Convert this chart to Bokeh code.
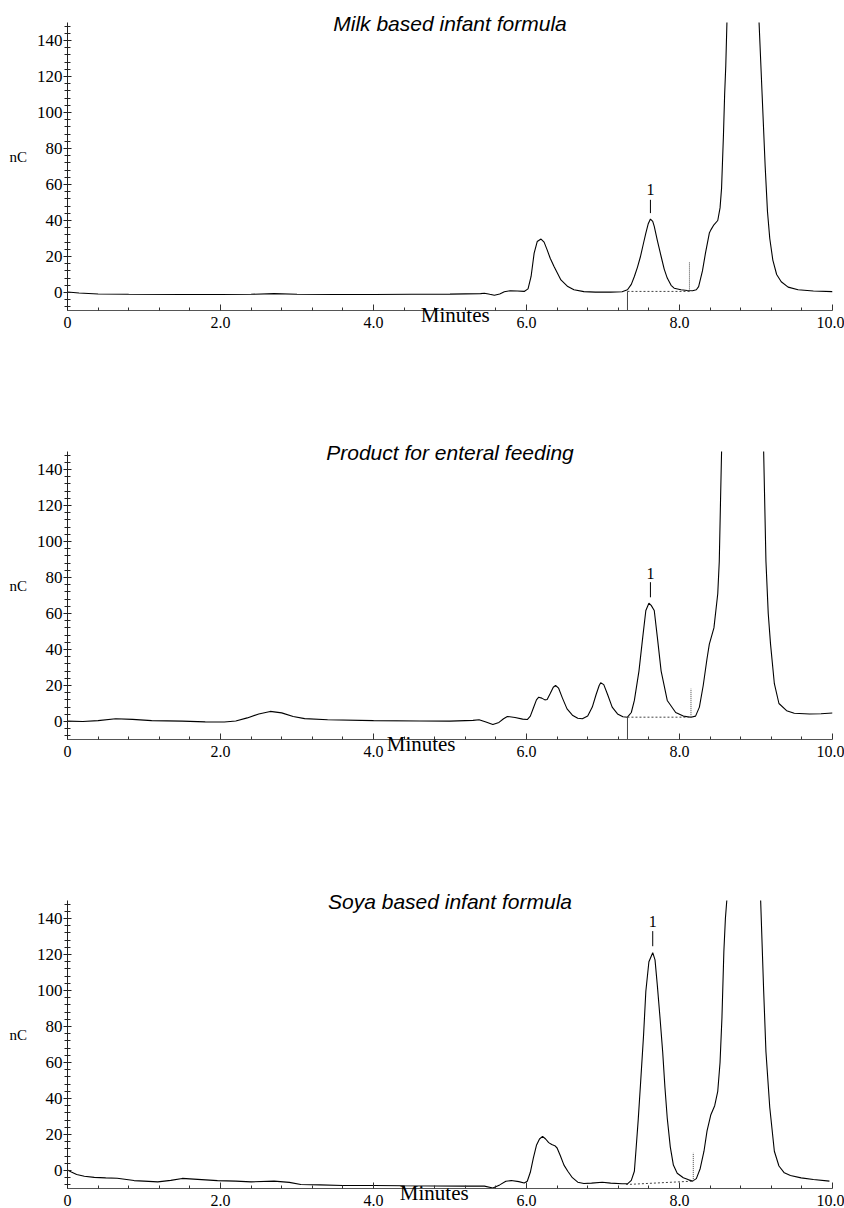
from bokeh.plotting import figure
from bokeh.layouts import column
from bokeh.models import FixedTicker, Label, PrintfTickFormatter, Range1d
from bokeh.embed import file_html
from bokeh.resources import INLINE

# ---------------- data ----------------
titles = ["Milk based infant formula", "Product for enteral feeding", "Soya based infant formula"]
x_ticks = [0, 2, 4, 6, 8, 10]
x_minor = [0.4, 0.8, 1.2, 1.6, 2.4, 2.8, 3.2, 3.6, 4.4, 4.8, 5.2, 5.6,
           6.4, 6.8, 7.2, 7.6, 8.4, 8.8, 9.2, 9.6]
y_ticks = [0, 20, 40, 60, 80, 100, 120, 140]
y_minor = [-8, -4, 4, 8, 12, 16, 24, 28, 32, 36, 44, 48, 52, 56, 64, 68, 72, 76,
           84, 88, 92, 96, 104, 108, 112, 116, 124, 128, 132, 136, 144, 148]

milk_t = [0.00, 0.15, 0.40, 0.80, 1.50, 2.00, 2.40, 2.70, 3.00, 3.50, 4.00, 4.50, 5.00,
          5.40, 5.45, 5.52, 5.58, 5.65, 5.71, 5.79, 5.88, 5.97, 6.02, 6.06, 6.10, 6.14,
          6.19, 6.23, 6.27, 6.31, 6.36, 6.45, 6.54, 6.62, 6.75, 6.90, 7.10, 7.25, 7.32,
          7.37, 7.41, 7.45, 7.49, 7.53, 7.56, 7.59, 7.62, 7.65, 7.67, 7.71, 7.76, 7.80,
          7.84, 7.89, 7.93, 8.02, 8.10, 8.17, 8.22, 8.25, 8.30, 8.34, 8.39, 8.41, 8.45,
          8.50, 8.53, 8.55, 8.575, 8.59, 8.605, 8.62, 8.64, 8.72, 8.82, 8.92, 9.00, 9.04,
          9.08, 9.12, 9.15, 9.18, 9.22, 9.27, 9.33, 9.42, 9.55, 9.75, 10.00]
milk_nc = [0.3, -0.3, -0.8, -1.0, -1.1, -1.1, -1.0, -0.6, -1.0, -1.1, -1.1, -1.0, -0.9,
           -0.6, -0.4, -1.0, -1.5, -0.8, 0.4, 1.0, 0.8, 0.6, 2.0, 8.9, 21.9, 28.3,
           29.7, 28.0, 23.7, 19.0, 14.4, 7.0, 3.3, 1.5, 0.5, 0.2, 0.2, 0.4, 1.5,
           4.5, 8.9, 14.0, 20.0, 27.5, 33.0, 38.0, 40.8, 39.5, 36.7, 29.0, 20.0, 13.0,
           8.0, 4.0, 2.4, 1.5, 1.1, 1.0, 1.5, 3.3, 12.0, 22.0, 33.0, 34.8, 37.6,
           40.0, 47.0, 58.0, 88.0, 110.0, 126.0, 150.0, 190.0, 260.0, 290.0, 270.0, 200.0, 150.0,
           110.0, 70.0, 45.0, 30.0, 18.0, 10.0, 6.0, 3.0, 1.5, 0.8, 0.5]

enteral_t = [0.00, 0.20, 0.40, 0.63, 0.85, 1.10, 1.50, 1.80, 2.05, 2.20, 2.35, 2.50, 2.65,
             2.80, 2.95, 3.10, 3.40, 4.00, 4.60, 5.00, 5.30, 5.38, 5.47, 5.56, 5.64, 5.70,
             5.75, 5.85, 5.95, 6.01, 6.05, 6.09, 6.13, 6.16, 6.20, 6.24, 6.27, 6.31, 6.35,
             6.38, 6.42, 6.47, 6.53, 6.60, 6.67, 6.73, 6.80, 6.86, 6.91, 6.95, 6.97, 7.01,
             7.06, 7.12, 7.19, 7.26, 7.32, 7.37, 7.41, 7.47, 7.52, 7.56, 7.60, 7.63, 7.67,
             7.71, 7.76, 7.84, 7.95, 8.05, 8.15, 8.21, 8.26, 8.31, 8.36, 8.39, 8.45, 8.50,
             8.52, 8.535, 8.55, 8.58, 8.70, 8.85, 9.00, 9.07, 9.10, 9.13, 9.16, 9.19, 9.24,
             9.30, 9.40, 9.50, 9.70, 9.85, 10.00]
enteral_nc = [0.2, 0.0, 0.5, 1.5, 1.2, 0.5, 0.2, -0.2, -0.3, 0.3, 2.0, 4.2, 5.6,
              4.8, 2.8, 1.6, 1.0, 0.5, 0.3, 0.2, 0.6, 1.0, -0.3, -1.7, -0.5, 1.5,
              2.8, 2.2, 1.3, 1.1, 3.0, 7.5, 12.0, 13.5, 13.0, 12.0, 12.2, 15.5, 19.0,
              20.0, 18.5, 13.0, 7.0, 3.5, 1.8, 1.5, 3.0, 8.0, 15.0, 20.0, 21.5, 20.5,
              15.0, 8.0, 4.2, 2.6, 2.4, 5.0, 11.7, 28.0, 47.0, 61.7, 65.7, 64.5, 61.7,
              47.0, 28.0, 11.7, 5.0, 3.0, 2.4, 3.0, 8.0, 20.0, 35.0, 43.0, 52.0, 71.0,
              89.0, 120.0, 150.0, 200.0, 280.0, 300.0, 260.0, 200.0, 150.0, 89.0, 60.0, 43.0, 21.0,
              10.0, 6.0, 4.6, 4.2, 4.3, 4.7]

soya_t = [0.00, 0.05, 0.12, 0.22, 0.35, 0.50, 0.65, 0.87, 1.00, 1.18, 1.35, 1.50, 1.65,
          1.96, 2.20, 2.40, 2.70, 2.90, 3.05, 3.30, 3.60, 4.00, 4.40, 4.80, 5.20, 5.45,
          5.56, 5.65, 5.73, 5.80, 5.90, 5.97, 6.01, 6.05, 6.09, 6.13, 6.17, 6.21, 6.25,
          6.29, 6.33, 6.37, 6.40, 6.44, 6.49, 6.54, 6.60, 6.67, 6.75, 6.85, 6.99, 7.10,
          7.25, 7.32, 7.37, 7.41, 7.43, 7.46, 7.49, 7.53, 7.56, 7.60, 7.65, 7.68, 7.71,
          7.745, 7.78, 7.81, 7.84, 7.88, 7.92, 7.97, 8.05, 8.12, 8.17, 8.22, 8.27, 8.32,
          8.36, 8.41, 8.46, 8.50, 8.53, 8.555, 8.58, 8.60, 8.62, 8.65, 8.80, 9.00, 9.06,
          9.10, 9.13, 9.18, 9.24, 9.30, 9.37, 9.45, 9.59, 9.75, 9.96]
soya_nc = [0.3, -0.8, -2.2, -3.2, -3.8, -4.1, -4.3, -5.6, -5.9, -6.3, -5.5, -4.4, -4.8,
           -5.6, -5.9, -6.3, -5.9, -6.6, -7.8, -8.0, -8.3, -8.3, -8.5, -8.6, -8.7, -8.7,
           -9.7, -8.0, -6.0, -5.6, -6.2, -6.9, -6.0, -1.0, 7.0, 14.0, 17.5, 19.0, 17.5,
           15.5, 14.4, 13.8, 12.5, 8.5, 3.0, -0.4, -4.0, -6.5, -7.2, -7.0, -6.5, -7.0,
           -7.4, -7.4, -5.5, -0.4, 10.7, 28.0, 47.8, 75.0, 99.6, 116.0, 121.0, 117.0, 103.0,
           85.0, 66.0, 46.0, 29.0, 13.0, 3.0, -1.5, -4.0, -5.2, -5.9, -4.5, 1.0, 10.7,
           22.0, 31.0, 36.0, 44.0, 60.0, 85.0, 121.8, 140.0, 151.0, 200.0, 300.0, 220.0, 151.0,
           100.0, 66.0, 35.0, 10.7, 2.5, -1.3, -2.8, -4.1, -5.0, -5.9]

# integration baseline of peak 1: start/end time and level, end-marker top
base_start_t = [7.32, 7.32, 7.30]
base_start_nc = [0.6, 2.4, -7.8]
base_end_t = [8.13, 8.15, 8.18]
base_end_nc = [0.6, 2.4, -5.9]
end_mark_top = [16.7, 18.2, 9.8]
# peak "1" marker
peak1_t = [7.62, 7.62, 7.65]
peak1_mark_lo = [44.1, 69.0, 124.6]
peak1_mark_hi = [51.5, 77.4, 133.0]
peak1_label_nc = [57.5, 82.5, 138.5]

traces = [(milk_t, milk_nc), (enteral_t, enteral_nc), (soya_t, soya_nc)]

SERIF = "Liberation Serif"
SANS = "Liberation Sans"
NB = "\u00a0"
# "Minutes" label, padded so that it sits where it does in the original
minutes_text = [NB * 2 + "Minutes", "Minutes" + NB * 11, "Minutes" + NB * 6]

# layout: (height, min_border_top, min_border_bottom)
layouts = [(350, 22, 40), (429, 101, 40), (428, 121, 19)]


def make_panel(i):
    h, top, bottom = layouts[i]
    p = figure(width=844, height=h, x_range=Range1d(0, 10), y_range=Range1d(-10, 150),
               output_backend="svg", toolbar_location=None,
               min_border_left=67, min_border_right=12,
               min_border_top=top, min_border_bottom=bottom,
               title=titles[i])
    p.outline_line_color = None
    p.xgrid.visible = False
    p.ygrid.visible = False
    p.background_fill_color = "white"
    p.border_fill_color = "white"

    p.title.align = "center"
    p.title.text_font = SANS
    p.title.text_font_style = "italic"
    p.title.text_font_size = "21px"
    p.title.text_color = "black"
    p.title.standoff = -25

    xa = p.xaxis[0]
    xa.ticker = FixedTicker(ticks=x_ticks, minor_ticks=x_minor)
    xa.formatter = PrintfTickFormatter(format="%.1f")
    xa.major_label_overrides = {0: "0"}
    xa.axis_line_color = "#555555"
    xa.axis_line_width = 1
    xa.major_tick_line_color = "#333333"
    xa.minor_tick_line_color = "#333333"
    xa.major_tick_in = 6
    xa.major_tick_out = 0
    xa.minor_tick_in = 3
    xa.minor_tick_out = 0
    xa.major_label_standoff = 6
    xa.major_label_text_font = SERIF
    xa.major_label_text_font_size = "16px"
    xa.major_label_text_color = "black"
    xa.axis_label = minutes_text[i]
    xa.axis_label_text_font = SERIF
    xa.axis_label_text_font_style = "normal"
    xa.axis_label_text_font_size = "21px"
    xa.axis_label_text_color = "black"
    xa.axis_label_standoff = -28

    ya = p.yaxis[0]
    ya.ticker = FixedTicker(ticks=y_ticks, minor_ticks=y_minor)
    ya.axis_line_color = "#222222"
    ya.major_tick_line_color = "#222222"
    ya.minor_tick_line_color = "#222222"
    ya.major_tick_in = 4
    ya.major_tick_out = 4
    ya.minor_tick_in = 3
    ya.minor_tick_out = 3
    ya.major_label_standoff = 1
    ya.major_label_text_font = SERIF
    ya.major_label_text_font_size = "17px"
    ya.major_label_text_color = "black"
    ya.axis_label = "nC\n" + NB
    ya.axis_label_orientation = "horizontal"
    ya.axis_label_text_font = SERIF
    ya.axis_label_text_font_style = "normal"
    ya.axis_label_text_font_size = "15px"
    ya.axis_label_text_color = "black"
    ya.axis_label_standoff = 7

    t, y = traces[i]
    p.line(t, y, line_color="black", line_width=1.1)

    # integration baseline
    p.segment(x0=[base_start_t[i]], y0=[base_start_nc[i]], x1=[base_end_t[i]], y1=[base_end_nc[i]],
              line_color="#444444", line_width=1, line_dash="2 2")
    p.segment(x0=[base_end_t[i]], y0=[base_end_nc[i]], x1=[base_end_t[i]], y1=[end_mark_top[i]],
              line_color="#444444", line_width=1, line_dash="1 1")
    if i < 2:
        p.segment(x0=[base_start_t[i]], y0=[-10], x1=[base_start_t[i]], y1=[base_start_nc[i]],
                  line_color="#444444", line_width=1)

    # peak 1 marker
    p.segment(x0=[peak1_t[i]], y0=[peak1_mark_lo[i]], x1=[peak1_t[i]], y1=[peak1_mark_hi[i]],
              line_color="black", line_width=1)
    p.add_layout(Label(x=peak1_t[i], y=peak1_label_nc[i], text="1", text_align="center",
                       text_baseline="middle", text_font=SERIF, text_font_size="16px",
                       text_color="black"))
    return p


layout = column(*[make_panel(i) for i in range(3)])
open("out.html", "w").write(file_html(layout, INLINE))
